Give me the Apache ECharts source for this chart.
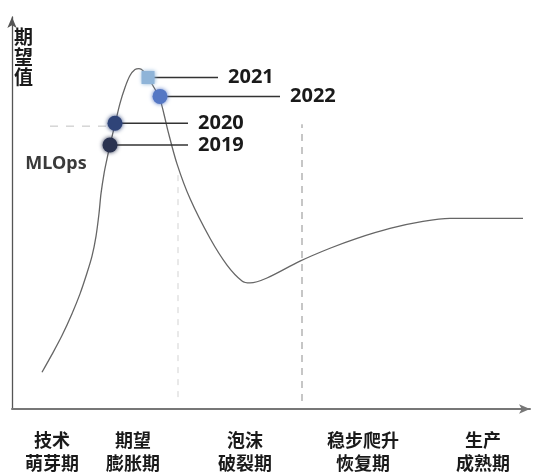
<!DOCTYPE html>
<html><head><meta charset="utf-8">
<script src="https://cdn.jsdelivr.net/npm/echarts@6/dist/echarts.min.js"></script>
<style>html,body{margin:0;padding:0;background:#fff}#c{width:536px;height:475px}</style>
</head><body><div id="c"></div>
<script>
// Hype-cycle curve (x: time, y: expectation)
const curveX = [30,40,50,60,68,75,80,84,87,89,92,95,98,103,108,113,118,123,127,131,136,142,148,152,156,165,178,198,215,230,238,255,288,318,345,378,411,438,511];
const curveY = [37,55,74,96,116,137,154,174,197,217,237,252,266,287,308,324,336,342,343,341,334,324,312,297,280,247,212,172,145,129,127,132,149,162,172,182,189,192,192];
// MLOps position per year
const years = ['2019','2020','2021','2022'];
const yearX = [98,103,136,148];
const yearY = [266,288,334,315];
const leaderEndX = [176,176,206,268];
// Phases
const phaseNames = ['技术\n萌芽期','期望\n膨胀期','泡沫\n破裂期','稳步爬升\n恢复期','生产\n成熟期'];
const phaseX = [40,121,233,351,471];
const dividerX = [166,290];
const peakRefY = 285;

const colors = ['#2b3350','#2f4478','#8fb4d8','#5577c4'];
const symbols = ['circle','circle','rect','circle'];

const series = [];
series.push({
  type:'line', data: curveX.map((x,i)=>[x,curveY[i]]), smooth:0.3, symbol:'none',
  lineStyle:{color:'#666',width:1.3}, z:2, silent:true
});
// dividers
series.push({type:'line', data:[[dividerX[0],12],[dividerX[0],240]], symbol:'none', lineStyle:{color:'#e2e2e2',width:1.5,type:[6,6]}, z:1});
series.push({type:'line', data:[[dividerX[1],8],[dividerX[1],287]], symbol:'none', lineStyle:{color:'#a8a8a8',width:1.3,type:[7,6]}, z:1});
series.push({type:'line', data:[[38,peakRefY],[95,peakRefY]], symbol:'none', lineStyle:{color:'#cfcfcf',width:1.3,type:[8,8]}, z:1});
years.forEach((yr,i)=>{
  series.push({
    type:'line', data:[[yearX[i],yearY[i]],[leaderEndX[i],yearY[i]]], symbol:'none',
    lineStyle:{color:'#333',width:1.5}, z:3,
    endLabel:{show:true, formatter:yr, color:'#1a1a1a', fontSize:20, fontWeight:'bold', distance:10, fontFamily:'Noto Sans'}
  });
  series.push({
    type:'scatter', data:[[yearX[i],yearY[i]]], symbol:symbols[i], symbolSize: symbols[i]==='rect'?13:15,
    itemStyle:{color:colors[i], opacity:1, shadowBlur:4, shadowColor:colors[i]}, z:5
  });
});
// MLOps label
series.push({
  type:'scatter', data:[[44,247]], symbolSize:0, itemStyle:{opacity:1},
  label:{show:true, formatter:'MLOps', position:'inside', opacity:1, color:'#3a3a3a', fontSize:18, fontWeight:'bold', fontFamily:'Noto Sans'}
});

const chart = echarts.init(document.getElementById('c'));
chart.setOption({
  animation:false,
  grid:{left:12,right:6,top:17,bottom:63},
  xAxis:{type:'value',min:0,max:518,splitLine:{show:false},
    axisLine:{lineStyle:{color:'#777',width:2},symbol:['none','arrow'],symbolSize:[7,11]},
    axisTick:{show:false},
    axisLabel:{customValues:phaseX, formatter:v=>phaseNames[phaseX.indexOf(v)], margin:20,
      color:'#1a1a1a', fontSize:18, fontWeight:'bold', lineHeight:23, fontFamily:'Noto Sans CJK SC'}},
  yAxis:{type:'value',min:0,max:395,splitLine:{show:false},
    axisLine:{show:true,lineStyle:{color:'#555',width:1.3},symbol:['none','arrow'],symbolSize:[7,11]},
    axisTick:{show:false}, axisLabel:{show:false},
    name:'期\n望\n值', nameLocation:'end', nameGap:-10,
    nameTextStyle:{align:'left', verticalAlign:'top', color:'#1a1a1a', fontSize:19, fontWeight:'bold', lineHeight:20, padding:[0,0,0,2], fontFamily:'Noto Sans CJK SC'}},
  series
});
</script></body></html>
